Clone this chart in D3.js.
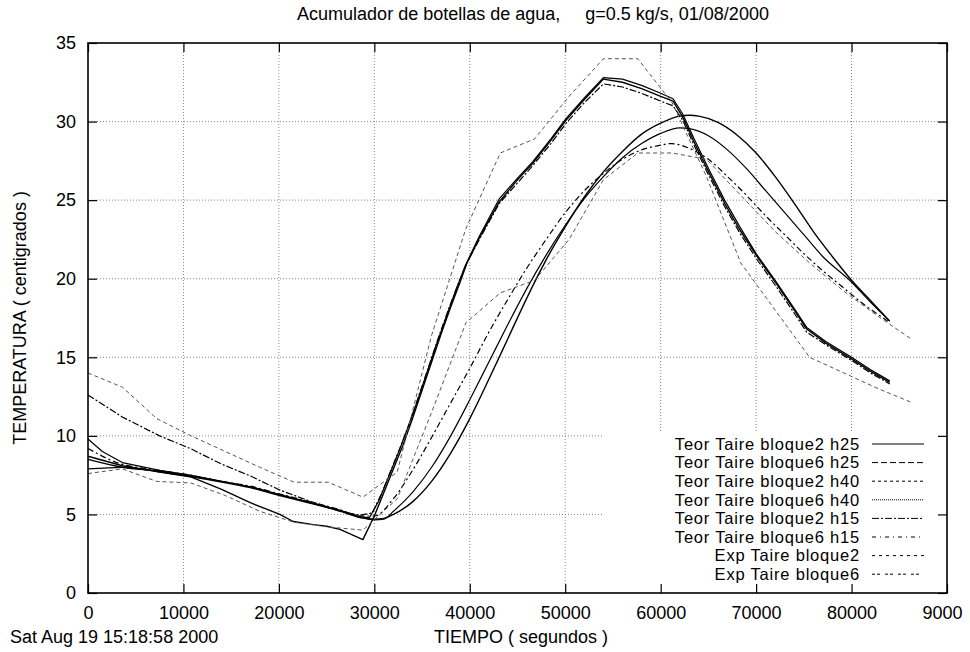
<!DOCTYPE html>
<html>
<head>
<meta charset="utf-8">
<script src="https://cdn.jsdelivr.net/npm/d3@7"></script>
<style>
    body { margin: 0; background: #fff; }
    svg text { font-family: "Liberation Sans", Arial, sans-serif; font-size: 18px; fill: #000; }
    svg .key text { font-size: 16.5px; letter-spacing: 0.8px; }
</style>
</head>
<body>
<div id="visualization"></div>
<script>
//chart texts
const titleText = "Acumulador de botellas de agua,     g=0.5 kg/s, 01/08/2000";
const xTitle = "TIEMPO ( segundos )";
const yTitle = "TEMPERATURA ( centigrados )";
const dateText = "Sat Aug 19 15:18:58 2000";

//ticks
const xTicks = [0, 10000, 20000, 30000, 40000, 50000, 60000, 70000, 80000, 90000];
const xTickLabels = ["0", "10000", "20000", "30000", "40000", "50000", "60000", "70000", "80000", "9000"];
const yTicks = [0, 5, 10, 15, 20, 25, 30, 35];

//teorical curves, [segundos, grados]
const teorB2h25 = [[0,8.7],[3600,8.1],[7500,7.7],[10700,7.4],[14000,6.6],[17000,5.75],[20100,5.0],[21500,4.55],[23600,4.35],[25000,4.25],[26400,4.05],[28800,3.4],[30000,4.9],[31000,6.4],[32000,7.9],[33000,9.4],[34000,11.1],[35000,12.9],[36000,14.7],[37000,16.5],[38000,18.2],[39000,19.8],[39700,21.0],[41000,22.6],[43100,24.9],[45000,26.3],[46600,27.35],[48500,28.8],[50100,30.1],[52000,31.4],[54000,32.7],[56000,32.5],[58000,32.1],[60000,31.6],[61300,31.3],[62300,30.3],[63500,28.7],[65100,26.7],[66700,24.8],[68300,23.1],[70000,21.5],[72100,19.7],[74000,18.0],[75300,16.8],[77300,15.9],[80000,14.9],[82000,14.1],[84000,13.4]];
const teorB6h25 = [[0,8.5],[3600,8.0],[7500,7.75],[10700,7.45],[14000,7.1],[17000,6.75],[20100,6.25],[23000,5.8],[26400,5.25],[28500,4.85],[30000,4.7],[31000,4.75],[32000,5.0],[34000,5.8],[36000,7.1],[38000,8.9],[40000,11.1],[42000,13.6],[44000,16.2],[46000,18.8],[48000,21.2],[50000,23.3],[52000,25.2],[54000,26.8],[56000,28.1],[58000,29.2],[60000,29.9],[62000,30.35],[63000,30.4],[64000,30.35],[66000,29.95],[68000,29.15],[70000,28.0],[72000,26.5],[74000,24.8],[76000,23.0],[78000,21.4],[80000,19.9],[82000,18.6],[84000,17.3]];
const teorB2h40 = [[0,9.8],[1500,9.0],[3600,8.3],[7500,7.8],[10700,7.5],[14000,7.1],[17000,6.75],[20100,6.25],[23000,5.8],[26400,5.25],[28500,4.85],[29500,4.8],[30500,5.9],[31500,7.4],[32500,8.9],[33500,10.5],[34500,12.2],[35500,14.0],[36500,15.8],[37500,17.5],[38500,19.2],[39500,20.8],[41000,22.7],[43100,25.1],[45000,26.4],[46600,27.45],[48500,28.9],[50100,30.2],[52000,31.5],[54000,32.8],[56000,32.7],[58000,32.3],[60000,31.8],[61300,31.45],[62300,30.5],[63500,28.9],[65100,26.9],[66700,25.0],[68300,23.3],[70000,21.6],[72100,19.8],[74000,18.1],[75300,16.9],[77300,16.0],[80000,15.0],[82000,14.2],[84000,13.5]];
const teorB6h40 = [[0,7.9],[3600,8.0],[7500,7.7],[10700,7.4],[14000,7.05],[17000,6.7],[20100,6.2],[23000,5.75],[26400,5.2],[28500,4.8],[30000,4.65],[31000,4.7],[32000,5.2],[34000,6.4],[36000,8.0],[38000,10.0],[40000,12.3],[42000,14.7],[44000,17.1],[46000,19.4],[48000,21.5],[50000,23.4],[52000,25.1],[54000,26.5],[56000,27.7],[58000,28.6],[60000,29.25],[62000,29.6],[63000,29.55],[65000,29.1],[67000,28.2],[69000,27.0],[71000,25.6],[73000,24.2],[75000,22.8],[77000,21.4],[79800,19.9],[82000,18.5],[84000,17.3]];
const teorB2h15 = [[0,12.6],[3600,11.2],[7500,10.0],[10700,9.2],[14000,8.2],[17000,7.45],[20100,6.55],[23000,5.9],[26400,5.2],[28500,4.95],[29800,5.1],[30800,6.4],[31800,7.9],[32800,9.4],[33800,11.0],[34800,12.8],[35800,14.6],[36800,16.4],[37800,18.1],[38800,19.7],[39700,21.0],[41000,22.5],[43100,24.8],[45000,26.1],[46600,27.2],[48500,28.6],[50100,29.9],[52000,31.2],[54000,32.4],[56000,32.2],[58000,31.8],[60000,31.3],[61300,31.0],[62300,30.1],[63500,28.5],[65100,26.5],[66700,24.6],[68300,22.9],[70000,21.3],[72100,19.5],[74000,17.8],[75300,16.6],[77300,15.8],[80000,14.8],[82000,14.0],[84000,13.3]];
const teorB6h15 = [[0,9.2],[3000,8.3],[7500,7.8],[10700,7.5],[14000,7.1],[17000,6.8],[20100,6.3],[23000,5.85],[26400,5.3],[28500,4.9],[30000,4.9],[32000,6.0],[34000,7.8],[36000,9.9],[38000,12.1],[40000,14.3],[42000,16.6],[44000,18.7],[46000,20.7],[48000,22.5],[50000,24.2],[52000,25.6],[54000,26.7],[56000,27.6],[58000,28.2],[60000,28.5],[61100,28.6],[63000,28.3],[65000,27.6],[67000,26.5],[69000,25.3],[71000,24.0],[73000,22.8],[75000,21.6],[77000,20.5],[79000,19.5],[81000,18.5],[83800,17.3]];

//experimental data, one value every hour
const expTimes = [0,3600,7200,10800,14400,18000,21600,25200,28800,32400,36000,39600,43200,46800,50400,54000,57600,61200,64800,68400,72000,75600,79200,82800,86400];
const expBloque2 = [14.0,13.1,11.1,10.0,9.0,8.0,7.05,7.05,6.1,7.7,16.4,23.2,28.0,28.9,31.6,34.0,34.0,31.2,26.5,21.0,18.0,15.0,14.0,13.0,12.1];
const expBloque6 = [7.6,7.9,7.1,7.0,6.2,5.2,4.5,4.2,4.0,6.0,11.5,17.2,19.1,19.9,22.5,26.3,28.0,28.0,27.6,25.3,23.0,21.0,19.2,17.6,16.1];

//series in key order
const seriesNames = ["Teor Taire bloque2 h25", "Teor Taire bloque6 h25", "Teor Taire bloque2 h40", "Teor Taire bloque6 h40",
    "Teor Taire bloque2 h15", "Teor Taire bloque6 h15", "Exp Taire bloque2", "Exp Taire bloque6"];
const seriesData = [teorB2h25, teorB6h25, teorB2h40, teorB6h40, teorB2h15, teorB6h15,
    expTimes.map((t, i) => [t, expBloque2[i]]), expTimes.map((t, i) => [t, expBloque6[i]])];

class GnuplotChart {
    constructor(parentId) {
        this.parent = document.getElementById(parentId);
        if(!this.parent)
            throw `failed to find element with id ${parentId}`;

        this.width = 970;
        this.height = 652;
        //plot frame
        this.frame = { "left": 88, "right": 947, "top": 43, "bottom": 593 };

        this.initD3();
        this.drawGrid();
        this.drawKeyBackground();
        this.drawSeries();
        this.drawAxes();
        this.drawKey();
        this.drawTexts();
    }

    initD3() {
        this.svg = d3.select(this.parent)
            .append("svg")
                .attr("width", this.width)
                .attr("height", this.height);

        this.x = d3.scaleLinear().domain([0, 90000]).range([this.frame.left, this.frame.right]);
        this.y = d3.scaleLinear().domain([0, 35]).range([this.frame.bottom, this.frame.top]);

        //line styles, as gnuplot drew them in the plot (dense data hides the dashes) and in the key
        this.plotStyles = [
            { dash: null, width: 1.4, color: "#000", smooth: false },
            { dash: null, width: 1.4, color: "#000", smooth: true },
            { dash: null, width: 1.2, color: "#000", smooth: false },
            { dash: null, width: 1.2, color: "#000", smooth: true },
            { dash: "7,2,2,2", width: 1.2, color: "#000", smooth: false },
            { dash: "6,3,2,3", width: 1.2, color: "#000", smooth: true },
            { dash: "4,3", width: 1, color: "#555", smooth: false },
            { dash: "4,3", width: 1, color: "#555", smooth: false }
        ];
        this.keyDash = [null, "6,3", "3,3", "1,1", "7,2,2,2", "4,4,1,4", "3,4", "3,2,3,5"];
    }

    drawGrid() {
        let grid = this.svg.append("g").attr("id", "grid");

        grid.selectAll("line.vgrid")
            .data(xTicks.slice(1, -1))
            .join("line")
                .attr("x1", d => this.x(d))
                .attr("x2", d => this.x(d))
                .attr("y1", this.frame.top)
                .attr("y2", this.frame.bottom);

        grid.selectAll("line.hgrid")
            .data(yTicks.slice(1, -1))
            .join("line")
                .attr("x1", this.frame.left)
                .attr("x2", this.frame.right)
                .attr("y1", d => this.y(d))
                .attr("y2", d => this.y(d));

        grid.selectAll("line")
            .attr("stroke", "#888")
            .attr("stroke-width", 1)
            .attr("stroke-dasharray", "1,2");
    }

    drawKeyBackground() {
        //the key hides the grid behind it
        this.svg.append("rect")
            .attr("x", 603)
            .attr("y", 432)
            .attr("width", this.frame.right - 603)
            .attr("height", this.frame.bottom - 432)
            .attr("fill", "#fff");
    }

    drawSeries() {
        let line = d3.line()
            .x(d => this.x(d[0]))
            .y(d => this.y(d[1]));
        let smoothLine = d3.line()
            .x(d => this.x(d[0]))
            .y(d => this.y(d[1]))
            .curve(d3.curveMonotoneX);

        this.svg.append("g")
            .attr("id", "series")
            .selectAll("path")
            .data(seriesData)
            .join("path")
                .attr("d", (d, i) => this.plotStyles[i].smooth ? smoothLine(d) : line(d))
                .attr("fill", "none")
                .attr("stroke", (d, i) => this.plotStyles[i].color)
                .attr("stroke-width", (d, i) => this.plotStyles[i].width)
                .attr("stroke-dasharray", (d, i) => this.plotStyles[i].dash)
                .attr("stroke-linejoin", "round");
    }

    drawAxes() {
        const tickLen = 9;

        //bottom axis with labels, ticks pointing inwards
        let bottom = this.svg.append("g")
            .attr("transform", `translate(0, ${this.frame.bottom})`)
            .call(d3.axisBottom(this.x)
                .tickValues(xTicks)
                .tickSizeInner(-tickLen)
                .tickSizeOuter(0)
                .tickPadding(10)
                .tickFormat((d, i) => xTickLabels[i]));

        let left = this.svg.append("g")
            .attr("transform", `translate(${this.frame.left}, 0)`)
            .call(d3.axisLeft(this.y)
                .tickValues(yTicks)
                .tickSizeInner(-tickLen)
                .tickSizeOuter(0)
                .tickPadding(12));

        //mirrored ticks
        let top = this.svg.append("g")
            .attr("transform", `translate(0, ${this.frame.top})`)
            .call(d3.axisTop(this.x).tickValues(xTicks).tickSizeInner(-tickLen).tickSizeOuter(0).tickFormat(""));

        let right = this.svg.append("g")
            .attr("transform", `translate(${this.frame.right}, 0)`)
            .call(d3.axisRight(this.y).tickValues(yTicks).tickSizeInner(-tickLen).tickSizeOuter(0).tickFormat(""));

        [bottom, left, top, right].forEach(a => {
            a.select(".domain").remove();
            a.selectAll(".tick line").attr("stroke", "#000").attr("stroke-width", 1.2);
            a.selectAll(".tick text")
                .attr("font-family", null)
                .attr("font-size", null)
                .attr("fill", "#000");
        });
        bottom.selectAll(".tick text").attr("dy", "0.9em");
        //the last label sits a little to the left in the original
        bottom.selectAll(".tick text").filter((d, i) => i === xTicks.length - 1).attr("dx", -5);

        //frame
        this.svg.append("rect")
            .attr("x", this.frame.left)
            .attr("y", this.frame.top)
            .attr("width", this.frame.right - this.frame.left)
            .attr("height", this.frame.bottom - this.frame.top)
            .attr("fill", "none")
            .attr("stroke", "#000")
            .attr("stroke-width", 1.6);
    }

    drawKey() {
        const rowY = i => 444 + i * 18.6;

        let key = this.svg.append("g").attr("class", "key");

        key.selectAll("text")
            .data(seriesNames)
            .join("text")
                .attr("x", 860)
                .attr("y", (d, i) => rowY(i))
                .attr("dy", "0.35em")
                .attr("text-anchor", "end")
                .text(d => d);

        key.selectAll("line")
            .data(seriesNames)
            .join("line")
                .attr("x1", 872)
                .attr("x2", 924)
                .attr("y1", (d, i) => rowY(i))
                .attr("y2", (d, i) => rowY(i))
                .attr("stroke", "#000")
                .attr("stroke-width", 1)
                .attr("stroke-dasharray", (d, i) => this.keyDash[i]);
    }

    drawTexts() {
        this.svg.append("text")
            .attr("x", 533)
            .attr("y", 20)
            .attr("text-anchor", "middle")
            .style("white-space", "pre")
            .text(titleText);

        this.svg.append("text")
            .attr("x", 521)
            .attr("y", 643)
            .attr("text-anchor", "middle")
            .text(xTitle);

        this.svg.append("text")
            .attr("x", 10)
            .attr("y", 643)
            .text(dateText);

        this.svg.append("text")
            .attr("transform", `translate(26, ${(this.frame.top + this.frame.bottom) / 2}) rotate(-90)`)
            .attr("text-anchor", "middle")
            .text(yTitle);
    }
}

new GnuplotChart("visualization");
</script>
</body>
</html>
